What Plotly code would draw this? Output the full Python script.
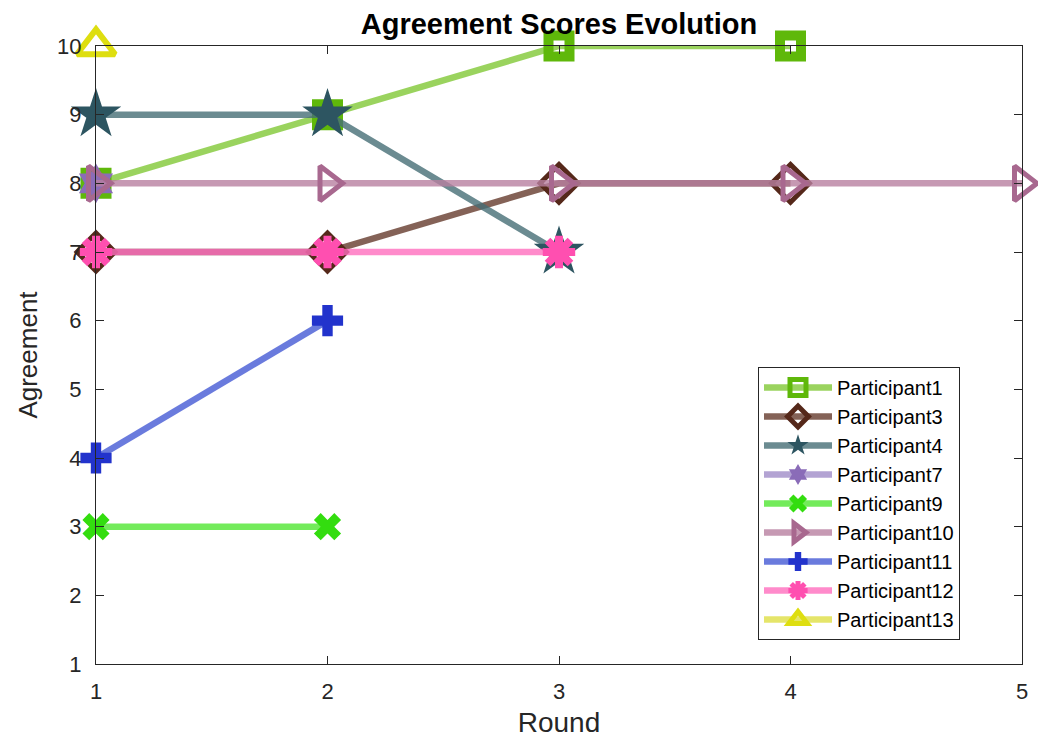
import plotly.graph_objects as go

# Agreement score per participant for each round they took part in
rounds_p1 = [1, 2, 3, 4]
scores_p1 = [8, 9, 10, 10]
rounds_p3 = [1, 2, 3, 4]
scores_p3 = [7, 7, 8, 8]
rounds_p4 = [1, 2, 3]
scores_p4 = [9, 9, 7]
rounds_p7 = [1]
scores_p7 = [8]
rounds_p9 = [1, 2]
scores_p9 = [3, 3]
rounds_p10 = [1, 2, 3, 4, 5]
scores_p10 = [8, 8, 8, 8, 8]
rounds_p11 = [1, 2]
scores_p11 = [4, 6]
rounds_p12 = [1, 2, 3]
scores_p12 = [7, 7, 7]
rounds_p13 = [1]
scores_p13 = [10]

x_ticks = [1, 2, 3, 4, 5]
y_ticks = [1, 2, 3, 4, 5, 6, 7, 8, 9, 10]

FONT = "Liberation Sans, Arial, sans-serif"

# name, x, y, line colour, marker colour, symbol, size, marker line width
series = [
    ("Participant1", rounds_p1, scores_p1, "rgba(120,196,40,0.75)", "#5fb80a", "square-open", 21, 10),
    ("Participant3", rounds_p3, scores_p3, "rgba(110,70,58,0.85)", "#55281a", "diamond-open", 29, 5),
    ("Participant4", rounds_p4, scores_p4, "rgba(70,110,118,0.8)", "#2d5561", "star", 38, 0),
    ("Participant7", rounds_p7, scores_p7, "rgba(160,140,200,0.8)", "#8a6cb8", "hexagram", 30, 0),
    ("Participant9", rounds_p9, scores_p9, "rgba(80,230,50,0.8)", "#33dd0f", "x", 24, 0),
    ("Participant10", rounds_p10, scores_p10, "rgba(184,128,160,0.8)", "#a8688f", "triangle-right-open", 30, 5),
    ("Participant11", rounds_p11, scores_p11, "rgba(80,100,215,0.85)", "#2233cc", "cross", 26, 0),
    ("Participant12", rounds_p12, scores_p12, "rgba(255,110,190,0.8)", "#ff4fb0", "asterisk-open", 27, 8),
    ("Participant13", rounds_p13, scores_p13, "rgba(225,225,80,0.85)", "#dede10", "triangle-up-open", 33, 6),
]

fig = go.Figure()
for name, xs, ys, lc, mc, sym, size, lw in series:
    marker = dict(symbol=sym, size=size, color=mc)
    if lw:
        marker["line"] = dict(color=mc, width=lw)
    fig.add_trace(go.Scatter(
        x=xs, y=ys, name=name, mode="lines+markers",
        line=dict(color=lc, width=6.5),
        marker=marker,
        cliponaxis=False,
    ))

axis_common = dict(
    showline=True, linecolor="#262626", linewidth=1, mirror="ticks",
    ticks="inside", ticklen=8, tickcolor="#262626",
    showgrid=False, zeroline=False, automargin=False,
    tickfont=dict(family=FONT, size=22, color="#262626"),
)

fig.update_layout(
    width=1038, height=738,
    margin=dict(l=96, r=16, t=46, b=74),
    paper_bgcolor="white", plot_bgcolor="white",
    font=dict(family=FONT, color="#262626"),
    title=dict(
        text="<b>Agreement Scores Evolution</b>",
        x=0.5, xref="paper", xanchor="center",
        y=1 - 24 / 738, yref="container", yanchor="middle",
        font=dict(size=29, color="black"),
    ),
    xaxis=dict(
        range=[1, 5], tickvals=x_ticks, ticklabelstandoff=8,
        title=dict(text="Round", font=dict(size=28), standoff=8),
        **axis_common,
    ),
    yaxis=dict(
        range=[1, 10], tickvals=y_ticks, ticklabelstandoff=9,
        title=dict(text="Agreement", font=dict(size=26), standoff=12),
        **axis_common,
    ),
    legend=dict(
        x=(758 - 96) / 926, y=(664 - 367) / 618, xanchor="left", yanchor="top",
        bordercolor="#262626", borderwidth=1, bgcolor="white",
        font=dict(size=20, color="black"),
        itemwidth=68, tracegroupgap=0,
    ),
    showlegend=True,
)

fig.write_html("out.html")
